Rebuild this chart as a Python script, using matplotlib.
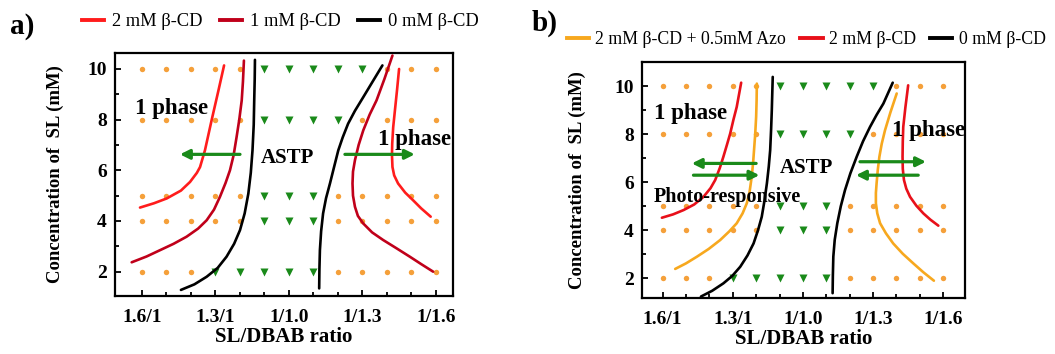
import matplotlib
matplotlib.use("Agg")
import matplotlib.pyplot as plt
from matplotlib.lines import Line2D

# ---------------- data ----------------
ratio_labels = ['1.6/1', '1.3/1', '1/1.0', '1/1.3', '1/1.6']
ratio_tick_pos = [0, 3, 6, 9, 12]
conc_rows = [10, 8, 5, 4, 2]
# o = one phase (orange dot), v = ASTP (green triangle); columns 0..12
phase_grid = [
    "ooooovvvvvooo",
    "ooooovvvvoooo",
    "ooooovvvooooo",
    "ooooovvvooooo",
    "ooovvvvvooooo",
]

# panel a curves (x = ratio column index, y = SL mM)
a_2mM_left_x = [-0.07, 0.5, 1.02, 1.6, 1.97, 2.25, 2.38, 2.58, 2.85, 3.13, 3.36]
a_2mM_left_y = [4.53, 4.7, 4.89, 5.2, 5.54, 5.9, 6.13, 6.79, 7.97, 9.15, 10.14]
a_2mM_right_x = [11.79, 11.4, 11.07, 10.75, 10.46, 10.3, 10.23, 10.21, 10.22, 10.26, 10.33, 10.42, 10.5]
a_2mM_right_y = [4.17, 4.5, 4.82, 5.12, 5.48, 5.8, 6.13, 6.6, 7.05, 7.7, 8.36, 9.2, 10.0]
a_1mM_left_x = [-0.41, 0.2, 0.75, 1.3, 1.83, 2.3, 2.65, 2.95, 3.19, 3.42, 3.6, 3.75, 3.87, 3.98, 4.08, 4.13, 4.17]
a_1mM_left_y = [2.37, 2.6, 2.85, 3.1, 3.38, 3.7, 4.03, 4.45, 4.95, 5.5, 6.0, 6.6, 7.31, 8.0, 8.76, 9.5, 10.33]
a_1mM_right_x = [11.89, 11.4, 10.94, 10.4, 9.85, 9.4, 9.04, 8.82, 8.7, 8.62, 8.6, 8.62, 8.7, 8.85, 9.04, 9.3, 9.58, 9.9, 10.23]
a_1mM_right_y = [2.0, 2.3, 2.59, 2.92, 3.25, 3.55, 3.9, 4.2, 4.56, 5.0, 5.48, 5.95, 6.4, 7.0, 7.58, 8.2, 8.76, 9.6, 10.53]
a_0mM_left_x = [1.6, 2.15, 2.65, 3.1, 3.46, 3.77, 4.01, 4.2, 4.35, 4.45, 4.52, 4.57, 4.59, 4.61, 4.62]
a_0mM_left_y = [1.28, 1.5, 1.8, 2.15, 2.59, 3.1, 3.64, 4.3, 5.08, 5.9, 6.79, 7.8, 8.76, 9.6, 10.36]
a_0mM_right_x = [7.24, 7.25, 7.27, 7.32, 7.4, 7.52, 7.68, 7.84, 8.02, 8.2, 8.42, 8.7, 9.04, 9.42, 9.82]
a_0mM_right_y = [1.34, 2.1, 2.85, 3.6, 4.3, 4.9, 5.48, 6.1, 6.79, 7.3, 7.84, 8.35, 8.89, 9.5, 10.14]

# panel b curves
b_azo_left_x = [0.54, 1.0, 1.47, 1.97, 2.46, 2.85, 3.17, 3.42, 3.6, 3.72, 3.81, 3.87, 3.91, 3.96, 4.0, 4.02, 4.03]
b_azo_left_y = [2.39, 2.62, 2.9, 3.22, 3.59, 3.95, 4.29, 4.7, 5.12, 5.6, 6.22, 6.8, 7.33, 8.0, 8.72, 9.4, 10.1]
b_azo_right_x = [11.6, 11.15, 10.72, 10.27, 9.86, 9.55, 9.3, 9.18, 9.12, 9.12, 9.15, 9.2, 9.27, 9.37, 9.51, 9.74, 10.01]
b_azo_right_y = [1.9, 2.25, 2.62, 3.02, 3.45, 3.87, 4.29, 4.7, 5.12, 5.55, 5.95, 6.5, 7.06, 7.6, 8.16, 8.9, 9.69]
b_2mM_left_x = [-0.03, 0.45, 0.9, 1.35, 1.75, 2.05, 2.25, 2.45, 2.6, 2.75, 2.89, 3.03, 3.17, 3.36]
b_2mM_left_y = [4.52, 4.66, 4.84, 5.07, 5.39, 5.75, 6.09, 6.6, 7.06, 7.55, 8.02, 8.6, 9.13, 10.14]
b_2mM_right_x = [11.79, 11.45, 11.15, 10.85, 10.58, 10.42, 10.32, 10.27, 10.26, 10.27, 10.29, 10.38, 10.5]
b_2mM_right_y = [4.19, 4.44, 4.7, 5.02, 5.39, 5.73, 6.09, 6.55, 7.06, 7.7, 8.3, 9.1, 10.03]
b_0mM_left_x = [1.64, 2.12, 2.6, 2.98, 3.32, 3.63, 3.89, 4.08, 4.24, 4.36, 4.46, 4.54, 4.6, 4.64, 4.67, 4.69, 4.71]
b_0mM_left_y = [1.24, 1.48, 1.79, 2.1, 2.48, 2.95, 3.45, 4.0, 4.56, 5.25, 5.95, 6.65, 7.33, 8.2, 9.0, 9.7, 10.38]
b_0mM_right_x = [7.27, 7.28, 7.3, 7.36, 7.47, 7.62, 7.8, 8.03, 8.3, 8.57, 8.87, 9.15, 9.44, 9.84]
b_0mM_right_y = [1.38, 2.1, 2.9, 3.6, 4.29, 5.0, 5.67, 6.37, 7.06, 7.7, 8.3, 8.8, 9.27, 10.14]

# ---------------- style ----------------
plt.rcParams['font.family'] = ['Liberation Serif', 'DejaVu Serif']
ORANGE_DOT = '#f5a03a'
GREEN = '#1a8a1a'
RED_BRIGHT = '#ff1c1c'
RED_DARK = '#c0001a'
RED_B = '#e8101a'
YELLOW = '#f7a81e'
BLACK = '#000000'
LW = 1.9

fig = plt.figure(figsize=(10.55, 3.54), dpi=100)
W, H = 1055.0, 354.0
axA = fig.add_axes([115 / W, 1 - 296 / H, 338 / W, 243 / H])
axB = fig.add_axes([642 / W, 1 - 298 / H, 323 / W, 236 / H])


def draw_grid(ax):
    for yv, row in zip(conc_rows, phase_grid):
        for i, c in enumerate(row):
            if c == 'o':
                ax.plot(i, yv, 'o', color=ORANGE_DOT, ms=3.9, mec='none', zorder=2)
            else:
                ax.plot(i, yv, 'v', color=GREEN, ms=5.3, mec='none', zorder=2)


def style_axes(ax, xlim, ylim, ylabelpad):
    ax.set_xlim(*xlim)
    ax.set_ylim(*ylim)
    ax.set_xticks(ratio_tick_pos)
    ax.set_xticklabels(ratio_labels)
    ax.set_xticks(range(0, 13), minor=True)
    ax.set_yticks([2, 4, 6, 8, 10])
    ax.set_yticks([3, 5, 7, 9], minor=True)
    for s in ax.spines.values():
        s.set_linewidth(1.6)
    ax.tick_params(which='both', direction='in', top=False, right=False,
                   width=1.3, labelsize=14)
    ax.tick_params(which='major', length=4)
    ax.tick_params(which='minor', length=3)
    ax.tick_params(axis='x', pad=9)
    ax.tick_params(axis='y', pad=6)
    for lab in ax.get_xticklabels() + ax.get_yticklabels():
        lab.set_fontweight('bold')
    ax.set_xlabel('SL/DBAB ratio', fontsize=15, fontweight='bold', labelpad=1)
    ax.set_ylabel('Concentration of  SL (mM)', fontsize=13.5, fontweight='bold',
                  labelpad=ylabelpad)


def curve(ax, x, y, color):
    ax.plot(x, y, color=color, lw=LW, solid_capstyle='round', solid_joinstyle='round', zorder=3)


def arrow(ax, tail, head):
    ax.annotate('', xy=head, xytext=tail,
                arrowprops=dict(arrowstyle='-|>', color=GREEN, lw=2.3,
                                mutation_scale=14, shrinkA=0, shrinkB=0),
                zorder=4)


# ---------------- panel a ----------------
draw_grid(axA)
curve(axA, a_2mM_left_x, a_2mM_left_y, RED_BRIGHT)
curve(axA, a_2mM_right_x, a_2mM_right_y, RED_BRIGHT)
curve(axA, a_1mM_left_x, a_1mM_left_y, RED_DARK)
curve(axA, a_1mM_right_x, a_1mM_right_y, RED_DARK)
curve(axA, a_0mM_left_x, a_0mM_left_y, BLACK)
curve(axA, a_0mM_right_x, a_0mM_right_y, BLACK)
arrow(axA, (4.01, 6.63), (1.56, 6.63))
arrow(axA, (8.29, 6.63), (11.14, 6.63))
axA.text(1.22, 8.43, '1 phase', fontsize=16.5, fontweight='bold', ha='center', va='center', zorder=5)
axA.text(5.95, 6.5, 'ASTP', fontsize=15, fontweight='bold', ha='center', va='center', zorder=5)
axA.text(11.14, 7.21, '1 phase', fontsize=16.5, fontweight='bold', ha='center', va='center', zorder=5)
style_axes(axA, (-1.09, 12.7), (1.04, 10.63), 17)

# ---------------- panel b ----------------
draw_grid(axB)
curve(axB, b_2mM_left_x, b_2mM_left_y, RED_B)
curve(axB, b_2mM_right_x, b_2mM_right_y, RED_B)
curve(axB, b_azo_left_x, b_azo_left_y, YELLOW)
curve(axB, b_azo_right_x, b_azo_right_y, YELLOW)
curve(axB, b_0mM_left_x, b_0mM_left_y, BLACK)
curve(axB, b_0mM_right_x, b_0mM_right_y, BLACK)
arrow(axB, (4.0, 6.78), (1.25, 6.78))
arrow(axB, (1.32, 6.29), (4.14, 6.29))
arrow(axB, (8.44, 6.85), (11.26, 6.85))
arrow(axB, (10.93, 6.29), (8.27, 6.29))
axB.text(1.18, 8.86, '1 phase', fontsize=16.5, fontweight='bold', ha='center', va='center', zorder=5)
axB.text(6.16, 6.57, 'ASTP', fontsize=15, fontweight='bold', ha='center', va='center', zorder=5)
axB.text(11.36, 8.16, '1 phase', fontsize=16.5, fontweight='bold', ha='center', va='center', zorder=5)
axB.text(-0.36, 5.39, 'Photo-responsive', fontsize=14.5, fontweight='bold', ha='left', va='center', zorder=5)
style_axes(axB, (-0.88, 12.93), (1.18, 11.0), 20)

# ---------------- legends & panel letters ----------------
legA = [Line2D([], [], color=RED_BRIGHT, lw=2.8),
        Line2D([], [], color=RED_DARK, lw=2.8),
        Line2D([], [], color=BLACK, lw=2.8)]
fig.legend(legA, ['2 mM β-CD', '1 mM β-CD', '0 mM β-CD'],
           loc='center left', bbox_to_anchor=(82 / W, 1 - 22 / H), ncol=3,
           frameon=False, fontsize=13.3, handlelength=1.2, handletextpad=0.42,
           columnspacing=0.95, borderpad=0, borderaxespad=0)
legB = [Line2D([], [], color=YELLOW, lw=2.8),
        Line2D([], [], color=RED_B, lw=2.8),
        Line2D([], [], color=BLACK, lw=2.8)]
fig.legend(legB, ['2 mM β-CD + 0.5mM Azo', '2 mM β-CD', '0 mM β-CD'],
           loc='center left', bbox_to_anchor=(567 / W, 1 - 40 / H), ncol=3,
           frameon=False, fontsize=12.8, handlelength=1.25, handletextpad=0.35,
           columnspacing=0.8, borderpad=0, borderaxespad=0)
fig.text(10 / W, 1 - 26 / H, 'a)', fontsize=21, fontweight='bold', ha='left', va='center')
fig.text(532 / W, 1 - 23 / H, 'b)', fontsize=21, fontweight='bold', ha='left', va='center')

fig.savefig('out.png', dpi=100)
